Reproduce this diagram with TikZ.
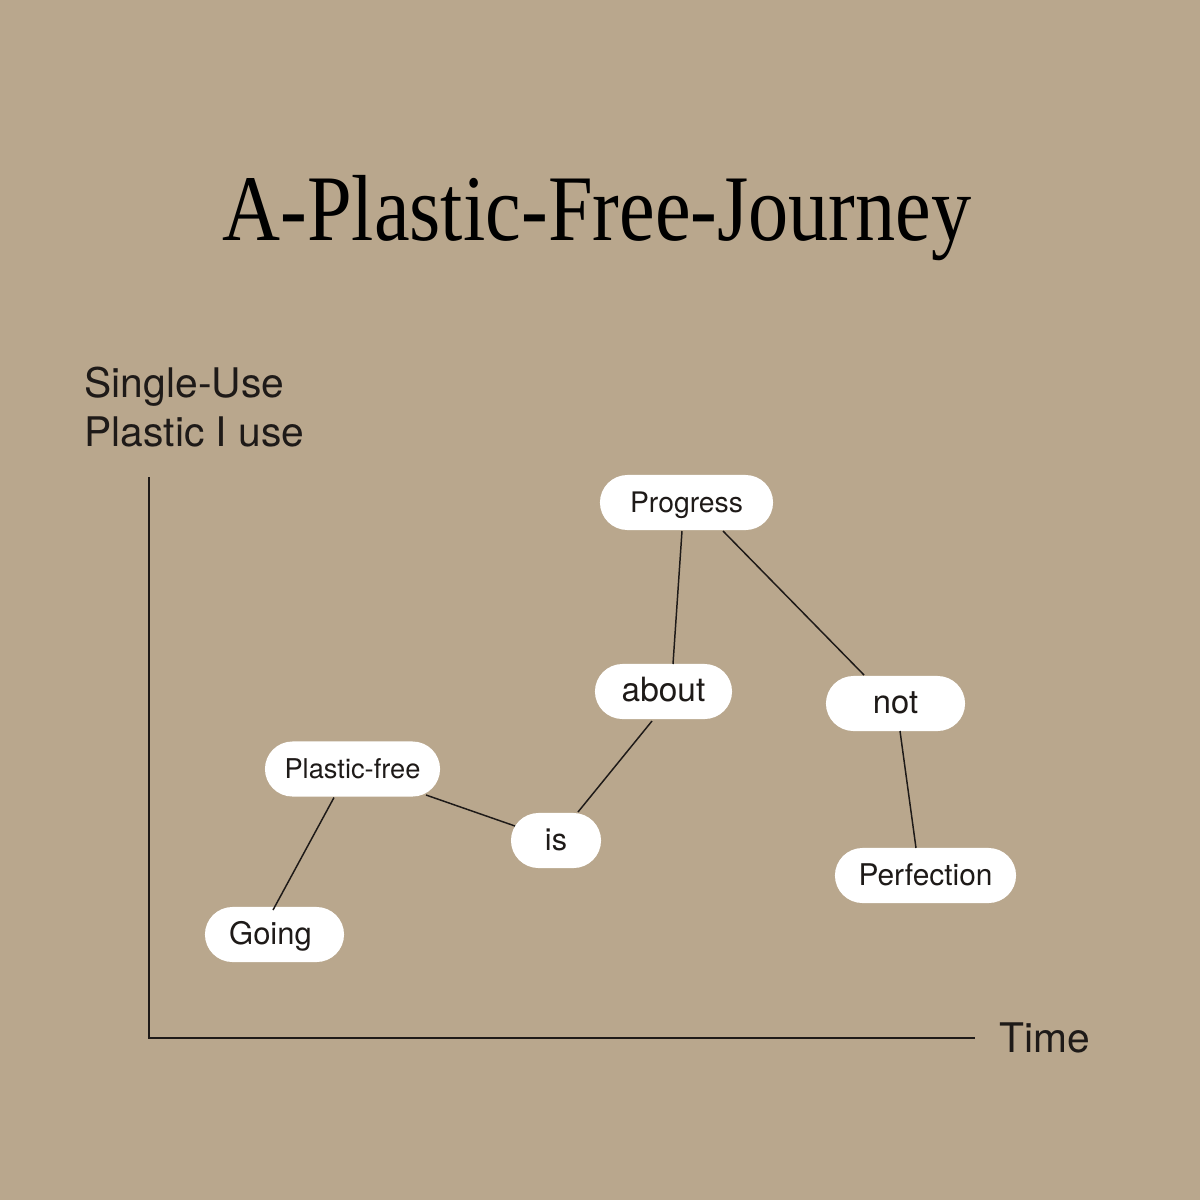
\documentclass[tikz,border=0pt]{standalone}
\usepackage{fontspec}
\setmainfont{TeX Gyre Heros}
\newfontfamily\titlefont{Liberation Serif}
\definecolor{bgtan}{RGB}{185,167,141}
\definecolor{inkdark}{RGB}{30,26,24}
\begin{document}
\begin{tikzpicture}[x=0.01cm,y=-0.01cm,
  pill/.style={fill=white,draw=none,rounded corners=0.275cm,minimum height=0.55cm,inner sep=0pt,
    text height=0.72em,text depth=1.7pt,text=inkdark},
  fs/.style={font=\fontsize{#1}{1.2\dimexpr#1\relax}\selectfont},
  link/.style={draw=inkdark,line width=0.42pt},
  axis/.style={draw=inkdark,line width=0.6pt},
  axlabel/.style={font=\fontsize{11.6pt}{13.9pt}\selectfont,text=inkdark,inner sep=0pt}]
\fill[bgtan] (0,0) rectangle (1200,1200);
\useasboundingbox (0,0) rectangle (1200,1200);
% title
\node[anchor=base,inner sep=0pt,font=\fontsize{26.7pt}{30pt}\titlefont] (title) at (597,240)
  {\scalebox{0.855}[1]{A-Plastic-Free-Journey}};
% axes
\coordinate (ytop) at (149,477);
\coordinate (orig) at (149,1038);
\coordinate (xend) at (975,1038);
\draw[axis] (ytop) -- (orig) -- (xend);
\node[axlabel,anchor=base west,align=left] (ylab) at (84,446) {Single-Use\\Plastic I use};
\node[axlabel,anchor=base west] (xlab) at (999,1052) {Time};
% nodes
\node[pill,fs=8.05pt,minimum width=1.73cm] (progress) at (686.5,502.5) {Progress};
\node[pill,fs=9.5pt,minimum width=1.37cm] (about) at (663.5,691.5) {about};
\node[pill,fs=9.3pt,minimum width=1.39cm] (not) at (895.5,703.5) {not};
\node[pill,fs=7.75pt,minimum width=1.75cm] (pf) at (352.5,769) {Plastic-free};
\node[pill,fs=8.7pt,minimum width=0.90cm] (is) at (556,840.5) {is};
\node[pill,fs=8.8pt,minimum width=1.39cm] (going) at (274.5,934.5) {\hspace*{-0.08cm}Going};
\node[pill,fs=8.5pt,minimum width=1.81cm] (perf) at (925.5,875.5) {Perfection};
% connectors
\draw[link] ([shift={(-1.5,-24.5)}]going.center) -- ([shift={(-18.5,28.5)}]pf.center);
\draw[link] ([shift={(73.5,26)}]pf.center) -- ([shift={(-41,-14.5)}]is.center);
\draw[link] ([shift={(22,-28.5)}]is.center) -- ([shift={(-11.5,29.5)}]about.center);
\draw[link] ([shift={(9.5,-27.5)}]about.center) -- ([shift={(-4.5,28.5)}]progress.center);
\draw[link] ([shift={(36.5,28.5)}]progress.center) -- ([shift={(-31.5,-28.5)}]not.center);
\draw[link] ([shift={(4.5,27.5)}]not.center) -- ([shift={(-9.5,-27.5)}]perf.center);
\end{tikzpicture}
\end{document}
